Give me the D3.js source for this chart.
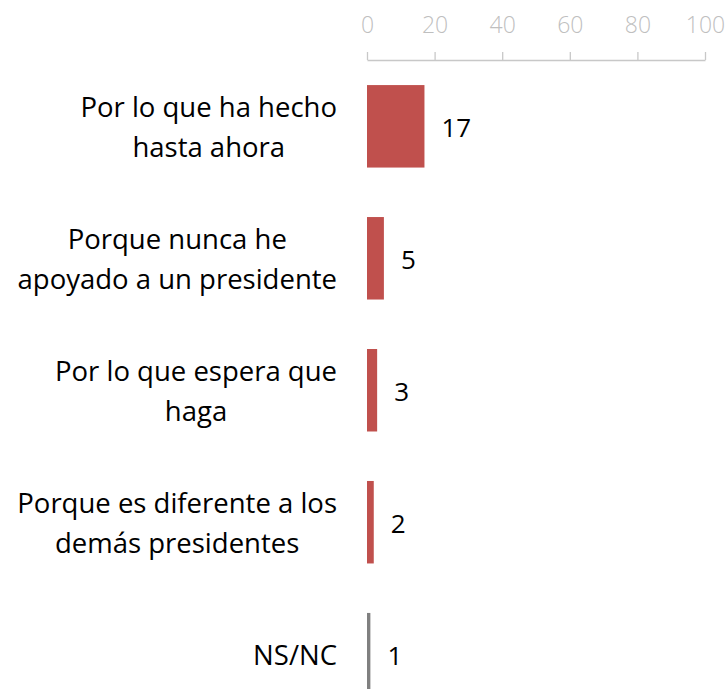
<!DOCTYPE html>
<html>
<head>
<meta charset="utf-8">
<script src="https://cdn.jsdelivr.net/npm/d3@7"></script>
<style>
  body { margin: 0; background: #fff; }
  text { font-family: "Open Sans", "Noto Sans", sans-serif; }
</style>
</head>
<body>
<div id="chart"></div>
<script>
// categories (each line of the label as one string) and values
var categories = [
  ["Por lo que ha hecho", "hasta ahora"],
  ["Porque nunca he", "apoyado a un presidente"],
  ["Por lo que espera que", "haga"],
  ["Porque es diferente a los", "demás presidentes"],
  ["NS/NC"]
];
var values = [17, 5, 3, 2, 1];
var barColors = ["#c0504d", "#c0504d", "#c0504d", "#c0504d", "#808080"];
var ticks = [0, 20, 40, 60, 80, 100];

var width = 728, height = 689;
var x0 = 367, x1 = 705, labelRight = 337;

var svg = d3.select("#chart").append("svg")
  .attr("width", width)
  .attr("height", height);

var x = d3.scaleLinear().domain([0, 100]).range([x0, x1]);

var y = d3.scaleBand()
  .domain(d3.range(values.length))
  .range([60, 720.5])
  .paddingInner(0.375)
  .paddingOuter(0.19);

// top axis
var axis = svg.append("g")
  .attr("transform", "translate(0,60)")
  .call(d3.axisTop(x).tickValues(ticks).tickSize(8).tickSizeOuter(0).tickPadding(19));
axis.select(".domain").attr("stroke", "#c8c8c8").attr("stroke-width", 1.3);
axis.selectAll(".tick line").attr("stroke", "#c8c8c8").attr("stroke-width", 1.3);
axis.selectAll(".tick text")
  .attr("fill", "#bfbfbf")
  .style("font-size", "23px")
  .style("font-weight", 300);

// bars
svg.selectAll("rect.bar")
  .data(values)
  .enter()
  .append("rect")
  .attr("class", "bar")
  .attr("x", x(0))
  .attr("y", function (d, i) { return y(i); })
  .attr("width", function (d) { return x(d) - x(0); })
  .attr("height", y.bandwidth())
  .attr("fill", function (d, i) { return barColors[i]; });

// value labels
svg.selectAll("text.val")
  .data(values)
  .enter()
  .append("text")
  .attr("class", "val")
  .attr("x", function (d) { return x(d) + 17; })
  .attr("y", function (d, i) { return y(i) + y.bandwidth() / 2; })
  .attr("dy", "0.42em")
  .attr("fill", "#000")
  .style("font-size", "26px")
  .text(function (d) { return d; });

// category labels: block right aligned, lines centred in it
var lineH = 40;
categories.forEach(function (lines, i) {
  var g = svg.append("g");
  var cy = y(i) + y.bandwidth() / 2;
  var texts = lines.map(function (t, j) {
    return g.append("text")
      .attr("y", cy + (j - (lines.length - 1) / 2) * lineH)
      .attr("dy", "0.38em")
      .attr("fill", "#000")
      .style("font-size", "27.5px")
      .attr("text-anchor", "middle")
      .text(t);
  });
  var maxW = d3.max(texts, function (t) { return t.node().getComputedTextLength(); });
  texts.forEach(function (t) { t.attr("x", labelRight - maxW / 2); });
});
</script>
</body>
</html>
